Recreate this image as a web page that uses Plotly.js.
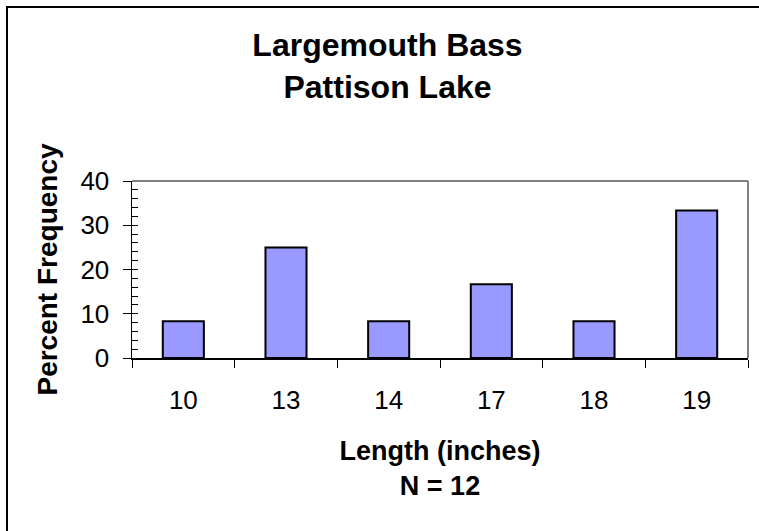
<!DOCTYPE html>
<html>
<head>
<meta charset="utf-8">
<script src="https://cdn.plot.ly/plotly-3.0.1.min.js"></script>
<style>
  html, body { margin: 0; padding: 0; background: #fff; }
  #chart { width: 759px; height: 531px; }
</style>
</head>
<body>
<div id="chart"></div>
<script>
// Data
const lengths = ['10', '13', '14', '17', '18', '19'];
const percentFrequency = [8.33, 25, 8.33, 16.67, 8.33, 33.33];
const yTickValues = [0, 10, 20, 30, 40];

const FONT = 'Arial, "Liberation Sans", sans-serif';
const W = 759, H = 531;
const M = { l: 132, r: 11, t: 181, b: 173 };
const pw = W - M.l - M.r, ph = H - M.t - M.b;
const px = x => (x - M.l) / pw;          // pixel x -> paper x
const py = y => (H - M.b - y) / ph;      // pixel y -> paper y

const trace = {
  type: 'bar',
  x: lengths,
  y: percentFrequency,
  marker: { color: '#9999FF', line: { color: '#000000', width: 2 } },
  hoverinfo: 'x+y'
};

const layout = {
  width: W, height: H,
  margin: M,
  paper_bgcolor: '#ffffff',
  plot_bgcolor: '#ffffff',
  showlegend: false,
  bargap: 0.6,
  title: {
    text: '<b>Largemouth Bass<br>Pattison Lake</b>',
    font: { family: FONT, size: 32, color: '#000' },
    xref: 'container', x: 387.5 / W, xanchor: 'center',
    yref: 'container', y: 1 - 56 / H, yanchor: 'top'
  },
  xaxis: {
    type: 'category',
    tickson: 'boundaries',
    ticks: 'outside', ticklen: 8, tickwidth: 1, tickcolor: '#000',
    showline: true, linecolor: '#000', linewidth: 1.5,
    showgrid: false, zeroline: false,
    tickfont: { family: FONT, size: 26, color: '#000' },
    ticklabelstandoff: 18,
    title: {
      text: '<b>Length (inches)<br>N = 12</b>',
      font: { family: FONT, size: 27, color: '#000' },
      standoff: 27
    }
  },
  yaxis: {
    range: [0, 40],
    tickvals: yTickValues,
    ticktext: yTickValues.map(String),
    ticks: 'outside', ticklen: 8, tickwidth: 1, tickcolor: '#000',
    minor: { dtick: 2, ticks: 'inside', ticklen: 6, tickwidth: 1, tickcolor: '#000', showgrid: false },
    showline: true, linecolor: '#000', linewidth: 1.5,
    showgrid: false, zeroline: false,
    tickfont: { family: FONT, size: 26, color: '#000' },
    ticklabelstandoff: 8,
    title: {
      text: '<b>Percent Frequency</b>',
      font: { family: FONT, size: 28, color: '#000' },
      standoff: 14
    }
  },
  shapes: [
    // gray plot-area border (top and right)
    { type: 'line', xref: 'paper', yref: 'paper', x0: 0, x1: 1, y0: 1, y1: 1, line: { color: '#808080', width: 2 } },
    { type: 'line', xref: 'paper', yref: 'paper', x0: 1, x1: 1, y0: 0, y1: 1, line: { color: '#808080', width: 2 } },
    // chart-area border (left and top, continuing off the picture)
    { type: 'line', xref: 'paper', yref: 'paper', x0: px(7), x1: px(7), y0: py(6), y1: py(H + 5), line: { color: '#000', width: 2 } },
    { type: 'line', xref: 'paper', yref: 'paper', x0: px(6), x1: px(W + 5), y0: py(7), y1: py(7), line: { color: '#000', width: 2 } }
  ]
};

Plotly.newPlot('chart', [trace], layout, { displayModeBar: false, staticPlot: true });
</script>
</body>
</html>
